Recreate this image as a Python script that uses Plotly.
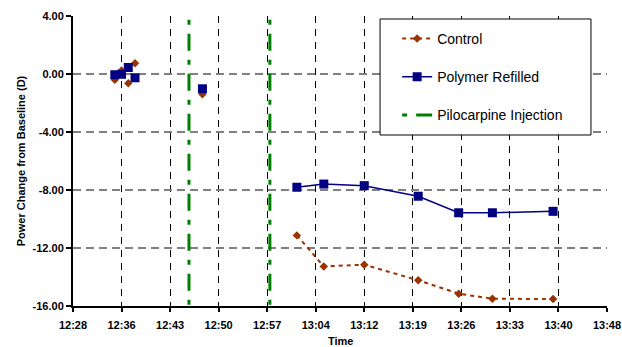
import plotly.graph_objects as go

DAY = "2000-01-01 "

# ---- data ----
early_times = ["12:35:00", "12:36:00", "12:37:00", "12:38:00", "12:48:00"]
later_times = ["13:02:00", "13:06:00", "13:12:00", "13:20:00", "13:26:00", "13:31:00", "13:40:00"]

control_early = [-0.40, 0.25, -0.64, 0.74, -1.40]
control_later = [-11.13, -13.27, -13.15, -14.23, -15.15, -15.50, -15.52]

polymer_early = [-0.05, -0.02, 0.45, -0.26, -1.02]
polymer_later = [-7.81, -7.59, -7.70, -8.43, -9.57, -9.57, -9.47]

injection_times = ["12:46:00", "12:58:00"]
injection_span = [3.75, -16.0]

y_tickvals = [4, 0, -4, -8, -12, -16]
y_ticktext = ["4.00", "0.00", "-4.00", "-8.00", "-12.00", "-16.00"]

x_range = ["12:28:48", "13:48:00"]


def build(early, later, ev, lv):
    xs, ys = [], []
    for t, v in zip(early, ev):
        xs += [DAY + t, None]
        ys += [v, None]
    for t, v in zip(later, lv):
        xs.append(DAY + t)
        ys.append(v)
    return xs, ys


cx, cy = build(early_times, later_times, control_early, control_later)
px_, py_ = build(early_times, later_times, polymer_early, polymer_later)

ix, iy = [], []
for t in injection_times:
    ix += [DAY + t, DAY + t, None]
    iy += [injection_span[0], injection_span[1], None]

NAVY = "#000080"
BROWN = "#993300"
GREEN = "#008000"
FONT = "Liberation Sans, Arial, sans-serif"

fig = go.Figure()
fig.add_trace(go.Scatter(
    x=cx, y=cy, name="Control", mode="lines+markers", connectgaps=False,
    line=dict(color=BROWN, width=2, dash="4px,4px"),
    marker=dict(symbol="diamond", size=6.5, color=BROWN),
    legendgroup="a",
))
fig.add_trace(go.Scatter(
    x=px_, y=py_, name="Polymer Refilled", mode="lines+markers", connectgaps=False,
    line=dict(color=NAVY, width=1.5),
    marker=dict(symbol="square", size=9, color=NAVY),
    legendgroup="b",
))
fig.add_trace(go.Scatter(
    x=ix, y=iy, name="Pilocarpine Injection", mode="lines",
    line=dict(color=GREEN, width=3, dash="5px,9px,17px,9px"),
    legendgroup="c",
))

# legend frame
fig.add_shape(type="rect", xref="paper", yref="paper",
              x0=0.575, x1=0.970, y0=0.5897, y1=0.9897,
              fillcolor="white", line=dict(color="black", width=1), layer="above")

# x-axis title
fig.add_annotation(text="<b>Time</b>", xref="paper", yref="paper",
                   x=0.5, y=-0.093, xanchor="center", yanchor="top",
                   showarrow=False, font=dict(size=11, family=FONT, color="black"))

fig.update_layout(
    width=622, height=347,
    margin=dict(l=73, r=15, t=16, b=41, autoexpand=False),
    paper_bgcolor="white", plot_bgcolor="white",
    font=dict(family=FONT, color="black"),
    showlegend=True,
    legend=dict(x=0.607, y=0.976, xanchor="left", yanchor="top",
                bgcolor="rgba(0,0,0,0)", borderwidth=0,
                font=dict(size=14, family=FONT, color="black"),
                traceorder="grouped", tracegroupgap=17, itemwidth=30),
    xaxis=dict(
        type="date", automargin=False,
        range=[DAY + x_range[0], DAY + x_range[1]],
        tick0=DAY + x_range[0], dtick=432000, tickformat="%H:%M",
        showgrid=True, gridcolor="black", gridwidth=1, griddash="7px,6px",
        showline=True, linecolor="black", linewidth=2,
        ticks="outside", ticklen=4, tickwidth=2, tickcolor="black",
        ticklabelstandoff=4,
        tickfont=dict(size=11, weight="bold", family=FONT, color="black"),
        zeroline=False,
    ),
    yaxis=dict(
        range=[-16, 4], tickvals=y_tickvals, ticktext=y_ticktext, automargin=False,
        showgrid=True, gridcolor="#808080", gridwidth=1.5, griddash="8px,5px",
        showline=True, linecolor="black", linewidth=2,
        ticks="outside", ticklen=5, tickwidth=2, tickcolor="black",
        tickfont=dict(size=11, weight="bold", family=FONT, color="black"),
        title=dict(text="<b>Power Change from Baseline (D)</b>",
                   font=dict(size=11, family=FONT, color="black"), standoff=5),
        zeroline=False,
    ),
)

fig.write_html(
    "out.html",
    config={"displayModeBar": False},
    post_script="document.body.style.margin='0';document.body.style.overflow='hidden';",
)
